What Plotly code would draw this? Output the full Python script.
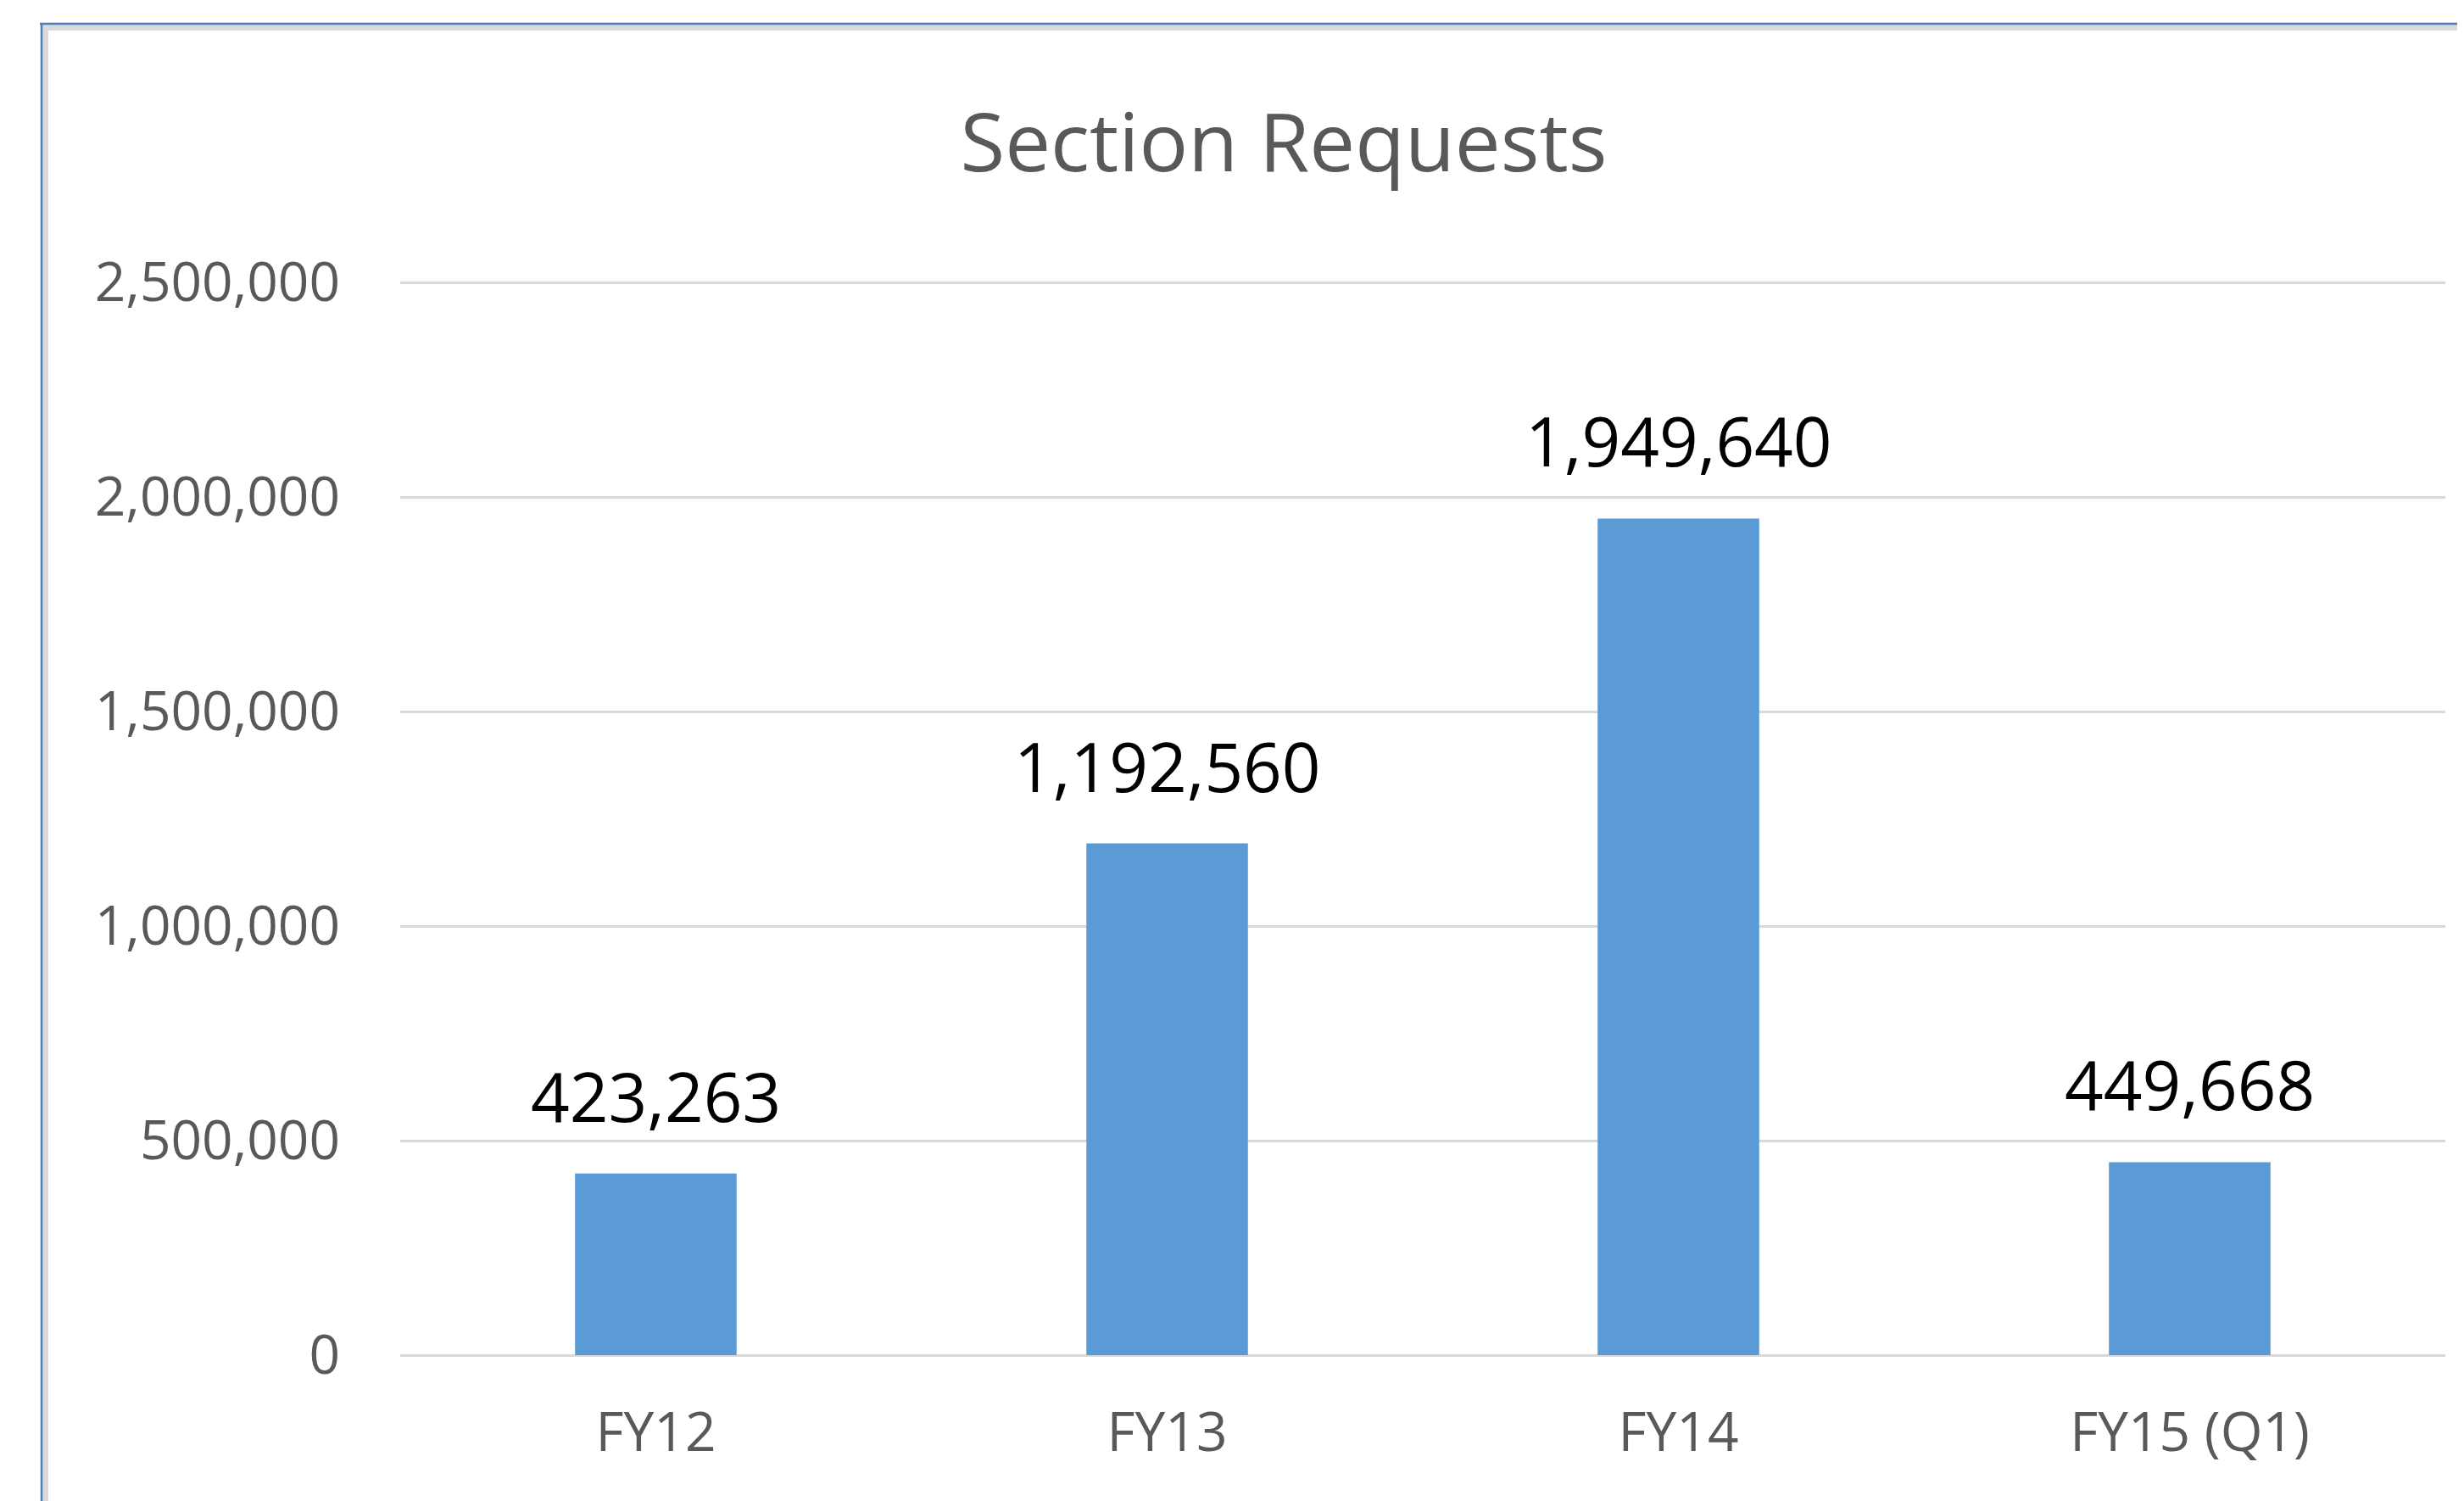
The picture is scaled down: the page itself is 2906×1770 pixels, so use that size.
import plotly.graph_objects as go

categories = ["FY12", "FY13", "FY14", "FY15 (Q1)"]
requests = [423263, 1192560, 1949640, 449668]
y_ticks = [0, 500000, 1000000, 1500000, 2000000, 2500000]
y_tick_labels = ["0", "500,000", "1,000,000", "1,500,000", "2,000,000", "2,500,000"]

# page offset from default body margin
OFF = 8
W, H = 2906 - OFF, 1770 - OFF
PAD = 2  # extra px around the plot so edge gridlines are drawn
ML, MR = 472 - OFF, 22
MT, MB = 333 - OFF - PAD, 172 - PAD
PW, PH = W - ML - MR, H - MT - MB
Y_MAX = 2500000
per_px = Y_MAX / (PH - 2 * PAD)
y_range = [-PAD * per_px, Y_MAX + PAD * per_px]


def px(x):
    return (x - OFF - ML) / PW


def py(y):
    return (H - MB - (y - OFF)) / PH


fig = go.Figure()
fig.add_trace(go.Bar(
    x=categories, y=requests,
    marker=dict(color="#5B9BD5", line=dict(width=0)),
    width=0.316,
    hoverinfo="x+y",
))

for c, v in zip(categories, requests):
    fig.add_annotation(
        x=c, y=v, text=f"{v:,}", showarrow=False,
        yanchor="bottom", yshift=36,
        font=dict(family="Open Sans", size=80, color="#000000"),
    )

# chart frame (blue outline with light grey inner band)
shapes = [
    dict(type="rect", xref="paper", yref="paper",
         x0=px(50), x1=px(2950), y0=py(29), y1=py(36),
         fillcolor="#D9D9D9", line=dict(width=0), layer="below"),
    dict(type="rect", xref="paper", yref="paper",
         x0=px(50), x1=px(57), y0=py(29), y1=py(1800),
         fillcolor="#D9D9D9", line=dict(width=0), layer="below"),
    dict(type="line", xref="paper", yref="paper",
         x0=px(47), x1=px(2950), y0=py(28), y1=py(28),
         line=dict(color="#4A7EBB", width=2.5)),
    dict(type="line", xref="paper", yref="paper",
         x0=px(49), x1=px(49), y0=py(28), y1=py(1800),
         line=dict(color="#4A7EBB", width=2.5)),
]

fig.update_layout(
    width=W, height=H,
    margin=dict(l=ML, r=MR, t=MT, b=MB, pad=0),
    paper_bgcolor="white", plot_bgcolor="white",
    showlegend=False,
    shapes=shapes,
    title=dict(
        text="Section Requests", xref="paper", x=px(1514), xanchor="center",
        y=1 - (168 - OFF) / H, yanchor="middle",
        font=dict(family="Open Sans", size=96, color="#595959"),
    ),
    xaxis=dict(
        showgrid=False, showline=False, zeroline=False,
        ticks="", ticklabelstandoff=46,
        tickfont=dict(family="Open Sans", size=64, color="#595959"),
    ),
    yaxis=dict(
        range=y_range, tickvals=y_ticks, ticktext=y_tick_labels,
        showgrid=True, gridcolor="#D9D9D9", gridwidth=3,
        zeroline=False, showline=False, ticks="",
        ticklabelstandoff=70,
        tickfont=dict(family="Open Sans", size=64, color="#595959"),
    ),
)

fig.write_html("out.html")
